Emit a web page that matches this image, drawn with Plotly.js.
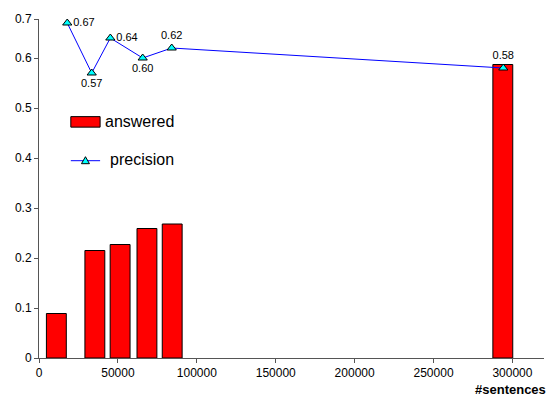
<!DOCTYPE html>
<html>
<head>
<meta charset="utf-8">
<script src="https://cdn.plot.ly/plotly-3.0.1.min.js"></script>
<style>html,body{margin:0;padding:0;background:#fff;}#chart{width:550px;height:400px;}</style>
</head>
<body>
<div id="chart"></div>
<script>
// Share of questions answered, by corpus size (bars)
const barSentences = [11000, 35400, 51400, 68400, 84400, 293900];
const answered = [0.089, 0.215, 0.227, 0.259, 0.268, 0.587];

// Precision of the answers, by corpus size (line)
const precSentences = [17900, 33400, 45200, 65700, 84100, 294200];
const precision = [0.67, 0.57, 0.64, 0.60, 0.62, 0.58];
const precLabels = ['0.67', '0.57', '0.64', '0.60', '0.62', '0.58'];
const labelPositions = ['middle right', 'bottom center', 'middle right', 'bottom center', 'top center', 'top center'];

// y tick positions and their labels
const yTickVals = [0, 0.1, 0.2, 0.3, 0.4, 0.5, 0.6, 0.678];
const yTickText = ['0', '0.1', '0.2', '0.3', '0.4', '0.5', '0.6', '0.7'];
const xTickVals = [0, 50000, 100000, 150000, 200000, 250000, 300000];

const seriesNames = ['answered', 'precision'];

const font = 'Liberation Sans, Arial, sans-serif';
const barColor = '#FF0000';
const lineColor = '#0000FF';
const markerColor = '#00FFFF';

const traces = [
  {
    type: 'bar',
    name: seriesNames[0],
    x: barSentences,
    y: answered,
    width: 12600,
    marker: {color: barColor, line: {color: '#000000', width: 1}}
  },
  {
    type: 'scatter',
    mode: 'lines+markers+text',
    name: seriesNames[1],
    x: precSentences,
    y: precision,
    text: precLabels,
    textposition: labelPositions,
    textfont: {family: font, size: 11, color: '#000'},
    line: {color: lineColor, width: 1},
    marker: {symbol: 'triangle-up', size: 8, color: markerColor, line: {color: '#000', width: 1}},
    cliponaxis: false
  }
];

// Legend drawn inside the plot: a wide bar swatch and a line swatch with a triangle
const legendShapes = [
  {type: 'rect', xref: 'paper', yref: 'paper', x0: 0.063, x1: 0.121, y0: 0.681, y1: 0.712,
   fillcolor: barColor, line: {color: '#000', width: 1}},
  {type: 'line', xref: 'paper', yref: 'paper', x0: 0.063, x1: 0.121, y0: 0.582, y1: 0.582,
   line: {color: lineColor, width: 1}},
  {type: 'path', xref: 'paper', yref: 'paper', xsizemode: 'pixel', ysizemode: 'pixel',
   xanchor: 0.092, yanchor: 0.582, path: 'M -4,-3 L 4,-3 L 0,4 Z',
   fillcolor: markerColor, line: {color: '#000', width: 1}}
];

const layout = {
  width: 550,
  height: 400,
  margin: {l: 39, r: 6, t: 19, b: 42},
  paper_bgcolor: '#fff',
  plot_bgcolor: '#fff',
  font: {family: font, size: 12, color: '#000'},
  showlegend: false,
  xaxis: {
    range: [0, 320000],
    tickvals: xTickVals,
    ticktext: xTickVals.map(String),
    ticks: 'outside', ticklen: 4, tickcolor: '#555',
    showline: true, linecolor: '#555', linewidth: 1,
    showgrid: false, zeroline: false,
    tickfont: {family: font, size: 12, color: '#000'}
  },
  yaxis: {
    range: [0, 0.678],
    tickvals: yTickVals,
    ticktext: yTickText,
    ticks: 'outside', ticklen: 4, tickcolor: '#555',
    showline: true, linecolor: '#555', linewidth: 1,
    showgrid: false, zeroline: false,
    tickfont: {family: font, size: 12, color: '#000'}
  },
  shapes: legendShapes,
  annotations: [
    {
      text: '<b>#sentences</b>',
      xref: 'paper', yref: 'paper',
      x: 1.008, y: 0, xanchor: 'right', yanchor: 'top',
      yshift: -22,
      showarrow: false,
      font: {family: font, size: 13, color: '#000'}
    },
    {
      text: seriesNames[0], xref: 'paper', yref: 'paper',
      x: 0.126, y: 0.697, xanchor: 'left', yanchor: 'middle',
      showarrow: false, font: {family: font, size: 16, color: '#000'}
    },
    {
      text: seriesNames[1], xref: 'paper', yref: 'paper',
      x: 0.136, y: 0.585, xanchor: 'left', yanchor: 'middle',
      showarrow: false, font: {family: font, size: 16, color: '#000'}
    }
  ]
};

Plotly.newPlot('chart', traces, layout, {displayModeBar: false, staticPlot: true});
</script>
</body>
</html>
